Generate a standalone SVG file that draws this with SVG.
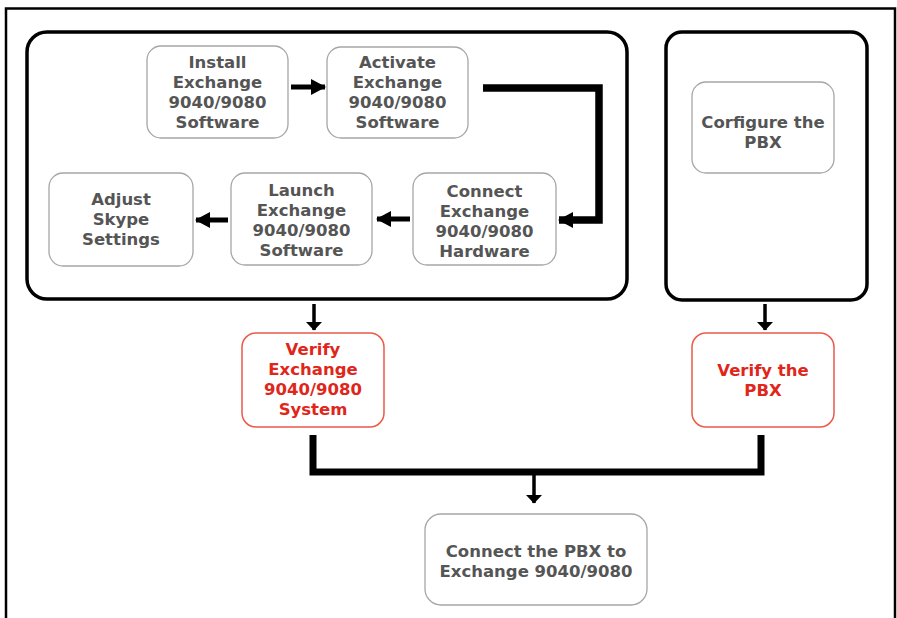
<svg xmlns="http://www.w3.org/2000/svg" width="897" height="618" viewBox="0 0 897 618">
<style>
.t{font-family:"DejaVu Sans",Verdana,sans-serif;font-weight:bold;font-size:16.5px;text-anchor:middle;fill:#555555}
.r{fill:#e0261a}
.box{fill:#ffffff;stroke:#a6a6a6;stroke-width:1.3}
.rbox{fill:#ffffff;stroke:#ec5a48;stroke-width:1.5}
.grp{fill:none;stroke:#000000;stroke-width:3.5}
.c{fill:none;stroke:#000000}
</style>
<defs>
<marker id="ah" viewBox="0 0 15 16" refX="14" refY="8" markerWidth="15" markerHeight="16" markerUnits="userSpaceOnUse" orient="auto">
<path d="M0,0 L15,8 L0,16 Z" fill="#000000"/>
</marker>
<marker id="ahd" viewBox="0 0 9 17" refX="8.5" refY="8.5" markerWidth="9" markerHeight="17" markerUnits="userSpaceOnUse" orient="auto">
<path d="M0,0 L9,8.5 L0,17 Z" fill="#000000"/>
</marker>
</defs>
<rect x="0" y="0" width="897" height="618" fill="#ffffff"/>
<rect id="frame" x="6" y="8.5" width="889" height="620" fill="none" stroke="#000000" stroke-width="2.5"/>
<g id="group-exchange"><rect class="grp" x="27" y="32" width="600" height="267" rx="20"/></g>
<g id="group-pbx"><rect class="grp" x="666" y="32" width="201" height="268" rx="16"/></g>
<g id="install"><rect class="box" x="147" y="46" width="141" height="92" rx="14"/>
<text class="t" x="217.5" y="68">Install</text><text class="t" x="217.5" y="88">Exchange</text><text class="t" x="217.5" y="108">9040/9080</text><text class="t" x="217.5" y="128">Software</text></g>
<g id="activate"><rect class="box" x="327" y="47" width="141" height="91" rx="14"/>
<text class="t" x="397.5" y="68">Activate</text><text class="t" x="397.5" y="88">Exchange</text><text class="t" x="397.5" y="108">9040/9080</text><text class="t" x="397.5" y="128">Software</text></g>
<g id="connect-hw"><rect class="box" x="413" y="173" width="143" height="92" rx="14"/>
<text class="t" x="484.5" y="197">Connect</text><text class="t" x="484.5" y="217">Exchange</text><text class="t" x="484.5" y="237">9040/9080</text><text class="t" x="484.5" y="257">Hardware</text></g>
<g id="launch"><rect class="box" x="231" y="173" width="141" height="92" rx="14"/>
<text class="t" x="301.5" y="196">Launch</text><text class="t" x="301.5" y="216">Exchange</text><text class="t" x="301.5" y="236">9040/9080</text><text class="t" x="301.5" y="256">Software</text></g>
<g id="adjust"><rect class="box" x="49" y="173" width="144" height="93" rx="14"/>
<text class="t" x="121" y="205">Adjust</text><text class="t" x="121" y="225">Skype</text><text class="t" x="121" y="245">Settings</text></g>
<g id="configure"><rect class="box" x="692" y="82" width="142" height="91" rx="14"/>
<text class="t" x="763" y="128">Corfigure the</text><text class="t" x="763" y="148">PBX</text></g>
<g id="verify-exchange"><rect class="rbox" x="242" y="333" width="142" height="94" rx="14"/>
<text class="t r" x="313" y="355">Verify</text><text class="t r" x="313" y="375">Exchange</text><text class="t r" x="313" y="395">9040/9080</text><text class="t r" x="313" y="415">System</text></g>
<g id="verify-pbx"><rect class="rbox" x="692" y="333" width="142" height="94" rx="14"/>
<text class="t r" x="763" y="376">Verify the</text><text class="t r" x="763" y="396">PBX</text></g>
<g id="connect-pbx"><rect class="box" x="425" y="514" width="222" height="91" rx="16"/>
<text class="t" x="536" y="557">Connect the PBX to</text><text class="t" x="536" y="577">Exchange 9040/9080</text></g>
<g id="connectors">
<path class="c" d="M291,87 H325" stroke-width="5" marker-end="url(#ah)"/>
<path class="c" d="M483,88 H599 V220 H559" stroke-width="7.5" marker-end="url(#ah)"/>
<path class="c" d="M410,219 H377" stroke-width="5" marker-end="url(#ah)"/>
<path class="c" d="M228,220 H196" stroke-width="5" marker-end="url(#ah)"/>
<path class="c" d="M314,304 V330" stroke-width="3.5" marker-end="url(#ahd)"/>
<path class="c" d="M765,304 V330" stroke-width="3.5" marker-end="url(#ahd)"/>
<path class="c" d="M313,435 V472 H761 V435" stroke-width="7"/>
<path class="c" d="M534,472 V503" stroke-width="3.5" marker-end="url(#ahd)"/>
</g>
</svg>
